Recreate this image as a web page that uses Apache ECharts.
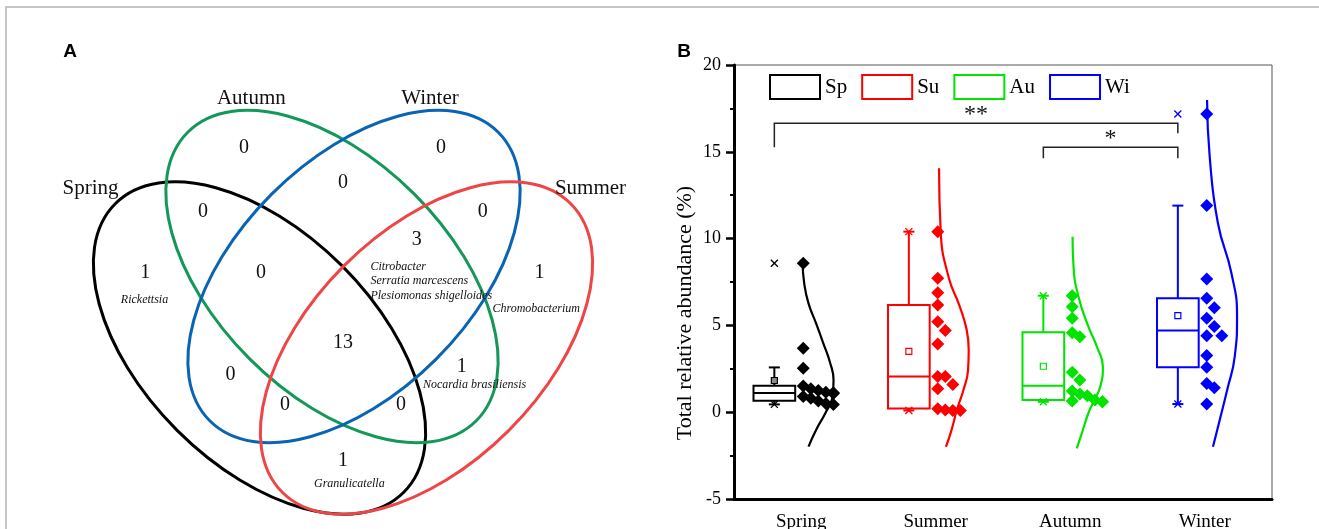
<!DOCTYPE html>
<html><head><meta charset="utf-8">
<script src="https://cdn.jsdelivr.net/npm/echarts@6/dist/echarts.min.js"></script>
<style>html,body{margin:0;padding:0;background:#fff}#c{width:1319px;height:529px}</style>
</head><body><div id="c"></div>
<script>
// ================= DATA =================
// ---- Panel B ----
const seasons = ['Spring', 'Summer', 'Autumn', 'Winter'];
const legendNames = ['Sp', 'Su', 'Au', 'Wi'];
const yTicks = [-5, 0, 5, 10, 15, 20];
const yAxisTitle = 'Total relative abundance (%)';

const springValues = [8.58, 3.68, 2.53, 1.51, 1.35, 1.25, 1.15, 1.12, 1.08, 0.90, 0.80, 0.65, 0.50, 0.45];
const summerValues = [10.40, 7.71, 6.88, 6.18, 5.21, 4.70, 3.93, 2.05, 2.05, 1.60, 1.35, 0.20, 0.12, 0.10, 0.10];
const autumnValues = [6.71, 6.08, 5.41, 4.58, 4.35, 2.30, 1.85, 1.22, 1.05, 0.95, 0.70, 0.65, 0.60, 0.60];
const winterValues = [17.18, 11.90, 7.67, 6.56, 6.02, 5.41, 4.93, 4.41, 4.41, 3.26, 2.59, 1.66, 1.41, 0.47];

// box statistics
const q1Values = [0.66, 0.22, 0.70, 2.59];
const medianValues = [1.10, 2.05, 1.53, 4.70];
const q3Values = [1.53, 6.18, 4.60, 6.56];
const whiskerLowValues = [0.45, 0.10, 0.60, 0.47];
const whiskerHighValues = [2.58, 10.40, 6.71, 11.90];

// distribution curves: levels (y) and relative density (0..1)
const springCurveLevels = [8.58, 7.42, 6.27, 5.12, 3.97, 2.82, 1.86, 0.89, -0.06, -1.02, -1.98];
const springCurveDensity = [0.04, 0.09, 0.22, 0.45, 0.67, 0.88, 0.98, 0.95, 0.73, 0.45, 0.22];
const summerCurveLevels = [14.05, 10.40, 7.71, 6.18, 4.73, 3.58, 2.43, 1.28, 0.13, -1.02, -1.99];
const summerCurveDensity = [0.10, 0.15, 0.40, 0.71, 0.94, 1.00, 0.98, 0.84, 0.64, 0.48, 0.31];
const autumnCurveLevels = [10.11, 8.38, 6.65, 4.93, 3.77, 2.62, 1.47, 0.70, -0.06, -1.22, -2.08];
const autumnCurveDensity = [0.07, 0.10, 0.25, 0.55, 0.81, 0.99, 0.91, 0.73, 0.55, 0.35, 0.20];
const winterCurveLevels = [17.98, 14.72, 10.88, 8.00, 5.50, 3.20, 1.28, -0.64, -1.99];
const winterCurveDensity = [0.07, 0.15, 0.40, 0.81, 0.98, 0.91, 0.68, 0.43, 0.25];

// significance brackets
const sigFrom = [0, 2];
const sigTo = [3, 3];
const sigLabels = ['**', '*'];
const sigLevel = [16.64, 15.26];
const sigLeftEnd = [15.26, 14.63];
const sigRightEnd = [16.07, 14.63];

// ---- Panel A (Venn) ----
const vennSets = ['Spring', 'Autumn', 'Winter', 'Summer'];
const vennRegions = ['Autumn', 'Winter', 'Autumn∩Winter', 'Spring∩Autumn', 'Winter∩Summer',
  'Autumn∩Winter∩Summer', 'Spring', 'Spring∩Autumn∩Winter', 'Summer', 'All',
  'Spring∩Winter', 'Autumn∩Summer', 'Spring∩Winter∩Summer', 'Spring∩Autumn∩Summer', 'Spring∩Summer'];
const vennCounts = [0, 0, 0, 0, 0, 3, 1, 0, 1, 13, 0, 1, 0, 0, 1];
const vennSpecies = ['', '', '', '', '', 'Citrobacter\nSerratia marcescens\nPlesiomonas shigelloides',
  'Rickettsia', '', 'Chromobacterium', '', '', 'Nocardia brasiliensis', '', '', 'Granulicatella'];

// ================= LAYOUT & STYLE =================
const SERIF = "'Liberation Serif', 'Times New Roman', serif";
const seasonColors = ['#000000', '#ff0000', '#00e400', '#0000ff'];
const meanFill = ['#8a8a8a', '#ffffff', '#ffffff', '#ffffff'];
const vennColors = ['#000000', '#13985a', '#0a64b4', '#ee4646'];
const L = {
  boxOffset: -0.2, boxHalf: 0.155, capHalf: 5.5,
  dotBase: 0.015, dotStep: 0.056, swarmThr: 0.55, swarmCols: 5,
  curveAmp: 0.245,
  venn: {
    rx: 20.4, ry: 11.65,
    ellipses: [[25.95, 34.8, 45], [33.2, 27.65, 45], [35.4, 27.65, -45], [42.65, 34.8, -45]],
    setPos: [[9.05, 18.82], [25.13, 9.85], [43.0, 9.85], [59.05, 18.82]],
    countPos: [[24.4, 14.74], [44.1, 14.74], [34.3, 18.3], [20.3, 21.15], [48.27, 21.15],
      [41.67, 24.0], [14.52, 27.25], [26.1, 27.25], [53.96, 27.25], [34.3, 34.23],
      [23.06, 37.5], [46.17, 36.66], [28.5, 40.47], [40.1, 40.47], [34.3, 46.04]],
    speciesPos: {5: [37.04, 28.11, 'left'], 6: [14.45, 30.0, 'center'], 8: [49.24, 30.86, 'left'],
      11: [42.3, 38.52, 'left'], 14: [34.93, 48.4, 'center']}
  }
};

const groupValues = [springValues, summerValues, autumnValues, winterValues];
const curveLevels = [springCurveLevels, summerCurveLevels, autumnCurveLevels, winterCurveLevels];
const curveDensity = [springCurveDensity, summerCurveDensity, autumnCurveDensity, winterCurveDensity];

function mean(a) { return a.reduce((s, v) => s + v, 0) / a.length; }

function swarmColumns(values, thr, maxCols) {
  const order = values.map((v, i) => i).sort((a, b) => values[b] - values[a]);
  const cols = new Array(values.length);
  const placed = [];
  order.forEach(i => {
    const v = values[i];
    let c = 0;
    while (c < maxCols - 1 && placed.some(p => p[1] === c && Math.abs(p[0] - v) < thr)) c++;
    cols[i] = c; placed.push([v, c]);
  });
  return cols;
}

function renderBox(params, api) {
  const g = api.value(0);
  const color = seasonColors[g];
  const xc = g + 0.5 + L.boxOffset;
  const P = k => api.coord([xc, api.value(k)]);
  const lo = P(1), q1 = P(2), md = P(3), q3 = P(4), hi = P(5), mn = P(6), vmin = P(7), vmax = P(8);
  const x = q1[0];
  const hw = api.size([L.boxHalf, 0])[0];
  const ls = { stroke: color, lineWidth: 2, fill: null };
  const ch = [
    { type: 'rect', shape: { x: x - hw, y: q3[1], width: 2 * hw, height: q1[1] - q3[1] }, style: { stroke: color, lineWidth: 2, fill: 'none' } },
    { type: 'line', shape: { x1: x - hw, y1: md[1], x2: x + hw, y2: md[1] }, style: ls },
    { type: 'line', shape: { x1: x, y1: q3[1], x2: x, y2: hi[1] }, style: ls },
    { type: 'line', shape: { x1: x, y1: q1[1], x2: x, y2: lo[1] }, style: ls },
    { type: 'line', shape: { x1: x - L.capHalf, y1: hi[1], x2: x + L.capHalf, y2: hi[1] }, style: ls },
    { type: 'line', shape: { x1: x - L.capHalf, y1: lo[1], x2: x + L.capHalf, y2: lo[1] }, style: ls },
    { type: 'rect', shape: { x: x - 3, y: mn[1] - 3, width: 6, height: 6 }, style: { stroke: color, lineWidth: 1.2, fill: meanFill[g] } }
  ];
  [vmin, vmax].forEach(p => {
    const s = 3.5;
    ch.push({ type: 'line', shape: { x1: x - s, y1: p[1] - s, x2: x + s, y2: p[1] + s }, style: { stroke: color, lineWidth: 1.3 } });
    ch.push({ type: 'line', shape: { x1: x - s, y1: p[1] + s, x2: x + s, y2: p[1] - s }, style: { stroke: color, lineWidth: 1.3 } });
  });
  return { type: 'group', children: ch };
}

function renderBracket(params, api) {
  const x1 = api.value(0) + 0.5 + L.boxOffset, x2 = api.value(1) + 0.5 + L.boxOffset;
  const a = api.coord([x1, api.value(3)]), b = api.coord([x1, api.value(2)]);
  const c = api.coord([x2, api.value(2)]), d = api.coord([x2, api.value(4)]);
  return {
    type: 'group', children: [
      { type: 'polyline', shape: { points: [a, b, c, d] }, style: { stroke: '#222', lineWidth: 1.5, fill: null } },
      { type: 'text', x: (b[0] + c[0]) / 2, y: b[1] - 9, style: { text: sigLabels[params.dataIndex], fill: '#111', font: '24px ' + SERIF, align: 'center', verticalAlign: 'middle' } }
    ]
  };
}

function renderEllipse(params, api) {
  const c = api.coord([api.value(0), api.value(1)]);
  const s = api.size([L.venn.rx, L.venn.ry]);
  return {
    type: 'ellipse', x: c[0], y: c[1], rotation: -api.value(2) * Math.PI / 180,
    shape: { cx: 0, cy: 0, rx: s[0], ry: s[1] },
    style: { fill: 'none', stroke: vennColors[params.dataIndex], lineWidth: 3 }
  };
}

function renderText(font, alignDefault) {
  return function (params, api) {
    const c = api.coord([api.value(0), api.value(1)]);
    const item = params.context.items[params.dataIndex];
    return {
      type: 'text', x: c[0], y: c[1],
      style: { text: item.text, fill: '#111', font: font, align: item.align || alignDefault, verticalAlign: 'middle', lineHeight: 14.7 }
    };
  };
}

const series = [];
// boxes
groupValues.forEach((vals, g) => {
  series.push({
    type: 'custom', name: legendNames[g], xAxisIndex: 1, yAxisIndex: 0, clip: false,
    renderItem: renderBox,
    encode: { x: 0, y: [1, 2, 3, 4, 5] },
    data: [[g, whiskerLowValues[g], q1Values[g], medianValues[g], q3Values[g], whiskerHighValues[g], mean(vals), Math.min(...vals), Math.max(...vals)]],
    z: 3
  });
});
// curves
curveLevels.forEach((lv, g) => {
  series.push({
    type: 'line', xAxisIndex: 1, yAxisIndex: 0, smooth: 0.5, showSymbol: false, symbol: 'none',
    lineStyle: { color: seasonColors[g], width: 2.2 }, itemStyle: { color: seasonColors[g] },
    data: lv.map((y, i) => [g + 0.5 + curveDensity[g][i] * L.curveAmp, y]), z: 3
  });
});
// diamonds
groupValues.forEach((vals, g) => {
  const cols = swarmColumns(vals, L.swarmThr, L.swarmCols);
  series.push({
    type: 'scatter', xAxisIndex: 1, yAxisIndex: 0, symbol: 'diamond', symbolSize: 13,
    itemStyle: { color: seasonColors[g], opacity: 1 },
    data: vals.map((v, i) => [g + 0.5 + L.dotBase + cols[i] * L.dotStep, v]), z: 4
  });
});
// brackets
series.push({
  type: 'custom', xAxisIndex: 1, yAxisIndex: 0, clip: false, renderItem: renderBracket,
  data: sigFrom.map((f, i) => [f, sigTo[i], sigLevel[i], sigLeftEnd[i], sigRightEnd[i]]), z: 5
});
// Venn ellipses
series.push({
  type: 'custom', xAxisIndex: 2, yAxisIndex: 1, clip: false, renderItem: renderEllipse,
  data: L.venn.ellipses.map(e => e.slice()), z: 2
});
// Venn set labels
const setItems = vennSets.map((s, i) => ({ text: s }));
series.push({
  type: 'custom', xAxisIndex: 2, yAxisIndex: 1, clip: false,
  renderItem: function (p, api) { p.context.items = setItems; return renderText('21px ' + SERIF, 'center')(p, api); },
  data: vennSets.map((s, i) => L.venn.setPos[i].slice()), z: 3
});
// Venn counts
const countItems = vennCounts.map(c => ({ text: String(c) }));
series.push({
  type: 'custom', xAxisIndex: 2, yAxisIndex: 1, clip: false,
  renderItem: function (p, api) { p.context.items = countItems; return renderText('20px ' + SERIF, 'center')(p, api); },
  data: vennCounts.map((c, i) => L.venn.countPos[i].slice()), z: 3
});
// Venn species
const spIdx = vennSpecies.map((s, i) => i).filter(i => vennSpecies[i]);
const spItems = spIdx.map(i => ({ text: vennSpecies[i], align: L.venn.speciesPos[i][2] }));
series.push({
  type: 'custom', xAxisIndex: 2, yAxisIndex: 1, clip: false,
  renderItem: function (p, api) { p.context.items = spItems; return renderText('italic 12px ' + SERIF, 'left')(p, api); },
  data: spIdx.map(i => [L.venn.speciesPos[i][0], L.venn.speciesPos[i][1]]), z: 3
});

const chart = echarts.init(document.getElementById('c'), null, { renderer: 'canvas' });
chart.setOption({
  animation: false,
  backgroundColor: '#fff',
  graphic: [
    { type: 'rect', shape: { x: 6, y: 7, width: 1400, height: 700 }, style: { fill: 'none', stroke: '#b4b4b4', lineWidth: 1.5 }, z: 0 },
    { type: 'text', x: 70, y: 52, style: { text: 'A', font: 'bold 19px "Liberation Sans", Arial, sans-serif', fill: '#000', align: 'center', verticalAlign: 'middle' } },
    { type: 'text', x: 684, y: 52, style: { text: 'B', font: 'bold 19px "Liberation Sans", Arial, sans-serif', fill: '#000', align: 'center', verticalAlign: 'middle' } }
  ],
  legend: {
    left: 769, top: 74, padding: 0, itemWidth: 50, itemHeight: 24, itemGap: 14, icon: 'rect',
    selectedMode: false,
    textStyle: { fontFamily: SERIF, fontSize: 21, color: '#000' },
    data: legendNames.map((n, i) => ({ name: n, icon: 'rect', itemStyle: { color: '#fff', borderColor: seasonColors[i], borderWidth: 2 } }))
  },
  grid: [
    { left: 734, top: 65, width: 538, height: 434, show: true, borderColor: '#555', borderWidth: 1, backgroundColor: 'transparent', containLabel: false, outerBoundsMode: 'none' },
    { left: 0, top: 0, width: 660, height: 529, containLabel: false, outerBoundsMode: 'none' }
  ],
  xAxis: [
    {
      type: 'category', gridIndex: 0, data: seasons, boundaryGap: true,
      axisLine: { onZero: false, lineStyle: { color: '#000', width: 3 } },
      axisTick: { alignWithLabel: true, length: 8, lineStyle: { color: '#000', width: 3 } },
      axisLabel: { fontFamily: SERIF, fontSize: 19, color: '#000', margin: 14 },
      splitLine: { show: false }
    },
    { type: 'value', gridIndex: 0, min: 0, max: 4, show: false },
    { type: 'value', gridIndex: 1, min: 0, max: 66, show: false }
  ],
  yAxis: [
    {
      type: 'value', gridIndex: 0, min: yTicks[0], max: yTicks[yTicks.length - 1], interval: yTicks[1] - yTicks[0],
      axisLine: { show: true, onZero: false, lineStyle: { color: '#000', width: 3 } },
      axisTick: { show: true, length: 8, lineStyle: { color: '#000', width: 2.5 } },
      minorTick: { show: true, splitNumber: 2, length: 4, lineStyle: { color: '#000', width: 2 } },
      splitLine: { show: false },
      axisLabel: { fontFamily: SERIF, fontSize: 18, color: '#000', margin: 13 },
      name: yAxisTitle, nameLocation: 'middle', nameGap: 38, nameRotate: 90,
      nameTextStyle: { fontFamily: SERIF, fontSize: 22, color: '#000', padding: [0, 62, 0, 0] }
    },
    { type: 'value', gridIndex: 1, min: 0, max: 52.9, inverse: true, show: false }
  ],
  series: series
});
</script>
</body></html>
